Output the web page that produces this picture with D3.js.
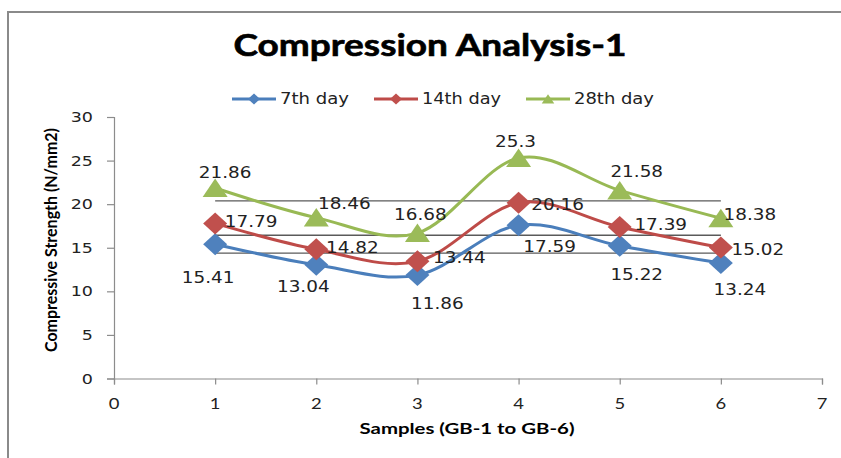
<!DOCTYPE html>
<html lang="en">
<head>
<meta charset="UTF-8">
<title>Compression Analysis-1</title>
<script src="https://d3js.org/d3.v7.min.js"></script>
<style>
    body { margin: 0; background: #fff; }
    svg { display: block; }
</style>
</head>
<body>
<svg id="chart" width="841" height="458"></svg>
<script>
    // data
    const samples = [1, 2, 3, 4, 5, 6];
    const seriesNames = ["7th day", "14th day", "28th day"];
    const day7 = [15.41, 13.04, 11.86, 17.59, 15.22, 13.24];
    const day14 = [17.79, 14.82, 13.44, 20.16, 17.39, 15.02];
    const day28 = [21.86, 18.46, 16.68, 25.3, 21.58, 18.38];
    const yTicks = [0, 5, 10, 15, 20, 25, 30];
    const xTicks = [0, 1, 2, 3, 4, 5, 6, 7];

    const svg = d3.select("#chart");

    // frame of the chart area (partly cut off at right/bottom)
    svg.append("path")
        .attr("d", "M8,458V12H841")
        .attr("fill", "none")
        .attr("stroke", "#8a8a8a")
        .attr("stroke-width", 2);

    const x = d3.scaleLinear().domain([0, 7]).range([114, 822]);
    const y = d3.scaleLinear().domain([0, 30]).range([378.5, 117]);

    // text helper, the original is stretched horizontally
    function label(parent, str, px, py, sx, anchor) {
        return parent.append("text")
            .attr("transform", `translate(${px},${py}) scale(${sx},1)`)
            .attr("text-anchor", anchor || "middle")
            .text(str);
    }

    // axes
    svg.append("g")
        .attr("transform", `translate(${x(0)},0)`)
        .call(d3.axisLeft(y).tickValues(yTicks).tickSize(7).tickFormat(""));
    svg.append("g")
        .attr("transform", `translate(0,${y(0)})`)
        .call(d3.axisBottom(x).tickValues(xTicks).tickSize(6).tickFormat(""));
    svg.selectAll(".domain, .tick line").attr("stroke", "#8c8c8c").attr("stroke-width", 1.2);

    const yLab = svg.append("g")
        .attr("font-family", "DejaVu Sans, Verdana, sans-serif")
        .attr("font-size", 14).attr("fill", "#222");
    yTicks.forEach(t => label(yLab, t, 93, y(t) + 5, 1.25, "end"));

    const xLab = svg.append("g")
        .attr("font-family", "Lato, sans-serif")
        .attr("font-size", 16).attr("fill", "#222");
    xTicks.forEach(t => label(xLab, t, x(t), 409, 1.15));

    // axis titles
    svg.append("text")
        .attr("x", 467).attr("y", 434)
        .attr("text-anchor", "middle")
        .attr("font-family", "Lato, sans-serif")
        .attr("font-weight", "bold").attr("font-size", 16)
        .attr("textLength", 215).attr("lengthAdjust", "spacingAndGlyphs")
        .text("Samples (GB-1 to GB-6)");

    svg.append("text")
        .attr("transform", "translate(57,240) rotate(-90)")
        .attr("text-anchor", "middle")
        .attr("font-family", "Lato, sans-serif")
        .attr("font-weight", "bold").attr("font-size", 17)
        .attr("textLength", 224).attr("lengthAdjust", "spacingAndGlyphs")
        .text("Compressive Strength (N/mm2)");

    // title
    svg.append("text")
        .attr("x", 430).attr("y", 56)
        .attr("text-anchor", "middle")
        .attr("font-family", "Lato, sans-serif")
        .attr("font-weight", "bold").attr("font-size", 30)
        .attr("stroke", "#000").attr("stroke-width", 0.6)
        .attr("textLength", 393).attr("lengthAdjust", "spacingAndGlyphs")
        .text("Compression Analysis-1");

    const series = [
        { name: seriesNames[0], values: day7, line: "#4a7ebb", fill: "#4f81bd", shape: "diamond",
          ldx: [-7, -13, 20, 31, 17, 19], ldy: [39, 27, 34, 27, 34, 32] },
        { name: seriesNames[1], values: day14, line: "#be4b48", fill: "#c0504d", shape: "diamond",
          ldx: [36, 36, 42, 39, 41, 37], ldy: [4, 4, 2, 7, 3, 7] },
        { name: seriesNames[2], values: day28, line: "#98b954", fill: "#9bbb59", shape: "triangle",
          ldx: [10, 28, 3, -3, 17, 29], ldy: [-10, -9, -13, -11, -13, 2] }
    ];

    // average reference lines
    series.forEach(s => {
        const avg = d3.mean(s.values);
        svg.append("line")
            .attr("x1", x(samples[0])).attr("x2", x(samples[samples.length - 1]))
            .attr("y1", y(avg)).attr("y2", y(avg))
            .attr("stroke", "#5a5a5a").attr("stroke-width", 1.3);
    });

    const line = d3.line()
        .x((d, i) => x(samples[i]))
        .y(d => y(d))
        .curve(d3.curveCardinal.tension(0));

    function marker(g, shape, cx, cy, k, fill) {
        if (shape === "diamond") {
            g.append("path")
                .attr("d", `M${cx},${cy - 11 * k}L${cx + 12 * k},${cy}L${cx},${cy + 11 * k}L${cx - 12 * k},${cy}Z`)
                .attr("fill", fill);
        } else {
            g.append("path")
                .attr("d", `M${cx},${cy - 9.5 * k}L${cx + 12.5 * k},${cy + 9 * k}L${cx - 12.5 * k},${cy + 9 * k}Z`)
                .attr("fill", fill);
        }
    }

    series.forEach(s => {
        const g = svg.append("g");
        g.append("path")
            .attr("d", line(s.values))
            .attr("fill", "none")
            .attr("stroke", s.line)
            .attr("stroke-width", 3);
        s.values.forEach((v, i) => marker(g, s.shape, x(samples[i]), y(v), 1, s.fill));
    });

    // data labels
    const dl = svg.append("g")
        .attr("font-family", "DejaVu Sans, Verdana, sans-serif")
        .attr("font-size", 16).attr("fill", "#222");
    series.forEach(s => {
        s.values.forEach((v, i) => {
            label(dl, v, x(samples[i]) + s.ldx[i], y(v) + s.ldy[i], 1.15);
        });
    });

    // legend
    const legendX = [232, 374, 526];
    const legendW = [69, 79, 80];
    const lg = svg.append("g")
        .attr("font-family", "DejaVu Sans, Verdana, sans-serif")
        .attr("font-size", 15).attr("fill", "#222");
    series.forEach((s, i) => {
        const lx = legendX[i];
        lg.append("line")
            .attr("x1", lx).attr("x2", lx + 44)
            .attr("y1", 99).attr("y2", 99)
            .attr("stroke", s.line).attr("stroke-width", 3);
        marker(lg, s.shape, lx + 22, 99, 0.5, s.fill);
        lg.append("text")
            .attr("x", lx + 48).attr("y", 104)
            .attr("textLength", legendW[i]).attr("lengthAdjust", "spacingAndGlyphs")
            .text(s.name);
    });
</script>
</body>
</html>
